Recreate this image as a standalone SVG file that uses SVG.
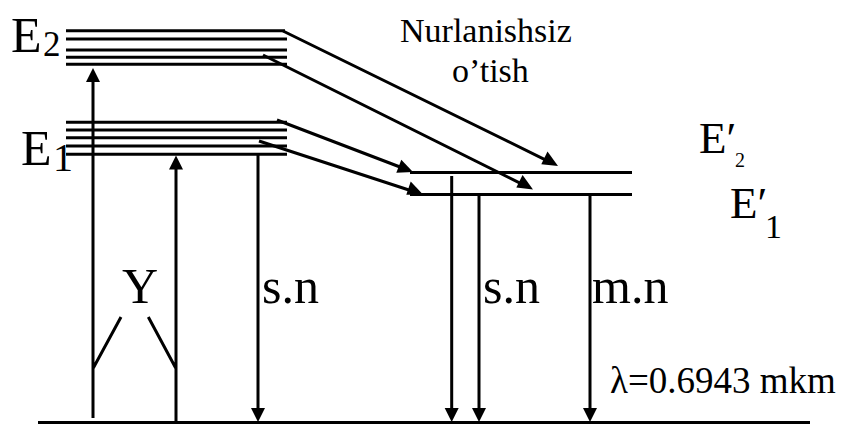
<svg xmlns="http://www.w3.org/2000/svg" width="847" height="425" viewBox="0 0 847 425">
<rect width="847" height="425" fill="#fff"/>
<text x="11" y="52" font-size="50" font-family="Liberation Serif">E</text>
<text x="43" y="56" font-size="35" font-family="Liberation Serif">2</text>
<text x="21" y="165" font-size="50" font-family="Liberation Serif">E</text>
<text x="53" y="171" font-size="40" font-family="Liberation Serif">1</text>
<text x="699" y="153" font-size="45" font-family="Liberation Serif">E′</text>
<text x="735" y="167" font-size="20" font-family="Liberation Serif">2</text>
<text x="730" y="218" font-size="45" font-family="Liberation Serif">E′</text>
<text x="765" y="238" font-size="34" font-family="Liberation Serif">1</text>
<text x="400" y="42" font-size="34" font-family="Liberation Serif">Nurlanishsiz</text>
<text x="452" y="82" font-size="34" font-family="Liberation Serif">o’tish</text>
<text x="122" y="303" font-size="50" font-family="Liberation Serif">Y</text>
<text x="262" y="303" font-size="50" font-family="Liberation Serif">s.n</text>
<text x="483" y="303" font-size="50" font-family="Liberation Serif">s.n</text>
<text x="592" y="303" font-size="50" font-family="Liberation Serif">m.n</text>
<text x="610" y="393" font-size="37" font-family="Liberation Serif">λ=0.6943 mkm</text>
<g stroke="#000" stroke-width="3" fill="none">
<g id="E2"><path d="M66,30.7H285M66,39H287M66,50H287M66,57.3H287M66,64.3H287"/></g>
<g id="E1"><path d="M66,122.3H287M66,130H287M66,137.7H287M66,146H287M66,154.3H287"/></g>
<g id="E2p"><path d="M410,172.5H632"/></g>
<g id="E1p"><path d="M410,194.5H632"/></g>
<g id="ground"><path d="M38,422.5H810"/></g>
<g id="connectors">
<path d="M93,418V80M176,422V167M258,154V410M451.7,176V410M479,194V410M590,194V410M283,31L545.4,159.8M263,55L520.5,183.3M277,120L400,167M259,141L409.7,190.2M93.3,368L121,317M148.3,317L175.7,368"/>
</g>
</g>
<g id="heads" fill="#000">
<path d="M93,68L86,82H100Z"/>
<path d="M176,155.5L169,169.5H183Z"/>
<path d="M258,422L251,408H265Z"/>
<path d="M451.7,422L444.7,408H458.7Z"/>
<path d="M479,422L472,408H486Z"/>
<path d="M590,422L583,408H597Z"/>
<path d="M558,166L541.3,164.2L547.5,151.6Z"/>
<path d="M533,189.5L516.3,187.6L522.6,175.1Z"/>
<path d="M413,172L396.3,172.8L401.3,159.7Z"/>
<path d="M423,194.5L406.3,194.8L410.7,181.5Z"/>
</g>
</svg>
